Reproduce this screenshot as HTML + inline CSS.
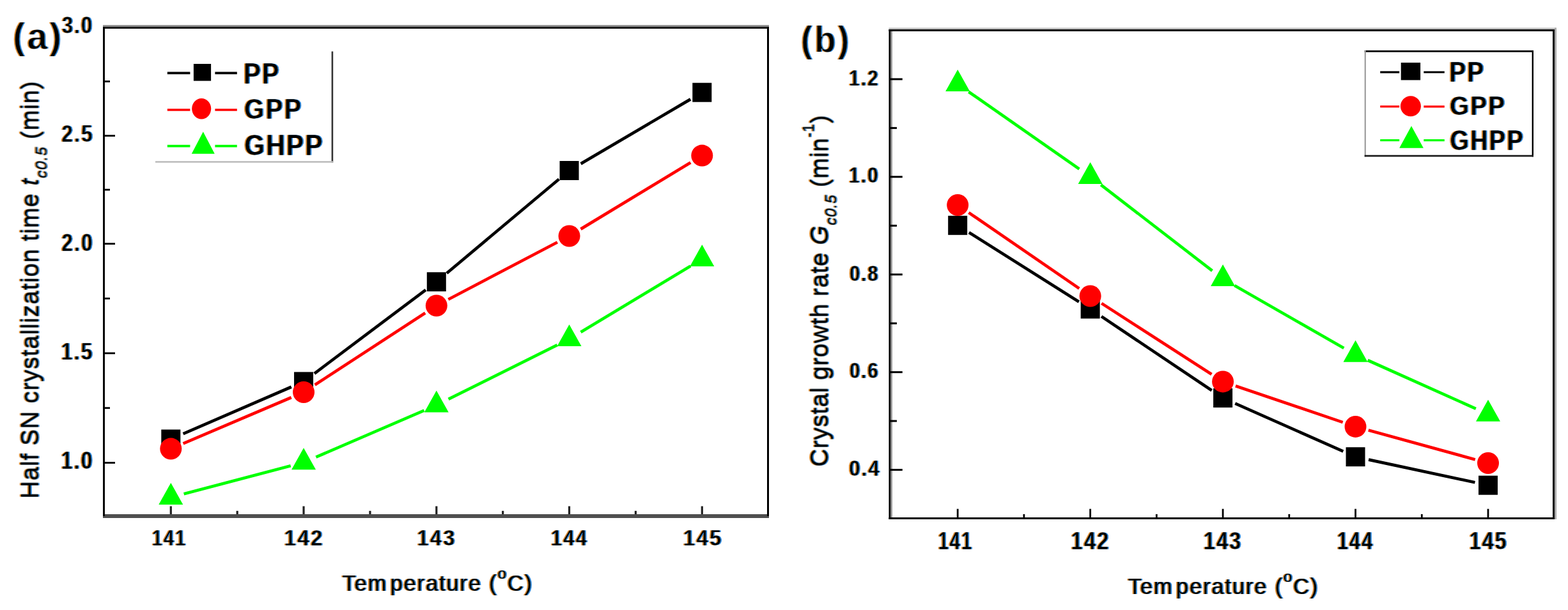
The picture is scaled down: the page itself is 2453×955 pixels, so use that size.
<!DOCTYPE html>
<html><head><meta charset="utf-8"><title>Crystallization plots</title>
<style>html,body{margin:0;padding:0;background:#fff;} svg{display:block;} text{font-family:"Liberation Sans", Arial, sans-serif;fill:#000;} text.b{stroke:#fff;stroke-width:0.6px;} text.b2{stroke:#fff;stroke-width:1.8px;}</style>
</head><body>
<svg width="2453" height="955" viewBox="0 0 2453 955">
<rect width="2453" height="955" fill="#fff"/>
<rect x="161.00" y="39.20" width="1042.00" height="2.80" fill="#8a8a8a"/>
<rect x="161.00" y="42.00" width="1042.00" height="3.00" fill="#1a1a1a"/>
<rect x="161.00" y="805.00" width="1042.00" height="6.00" fill="#4f4f4f"/>
<rect x="161.00" y="42.00" width="3.00" height="766.00" fill="#000"/>
<rect x="1200.00" y="42.00" width="3.00" height="766.00" fill="#000"/>
<rect x="164.00" y="211.10" width="16.00" height="2.80" fill="#000"/>
<rect x="164.00" y="380.20" width="16.00" height="2.80" fill="#000"/>
<rect x="164.00" y="551.60" width="16.00" height="2.80" fill="#000"/>
<rect x="164.00" y="723.10" width="16.00" height="2.80" fill="#000"/>
<rect x="164.00" y="126.10" width="8.00" height="2.80" fill="#000"/>
<rect x="164.00" y="295.65" width="8.00" height="2.80" fill="#000"/>
<rect x="164.00" y="465.90" width="8.00" height="2.80" fill="#000"/>
<rect x="164.00" y="637.35" width="8.00" height="2.80" fill="#000"/>
<rect x="265.70" y="792.50" width="3.20" height="12.50" fill="#222"/>
<rect x="369.57" y="799.80" width="3.20" height="5.20" fill="#222"/>
<rect x="473.45" y="792.50" width="3.20" height="12.50" fill="#222"/>
<rect x="577.32" y="799.80" width="3.20" height="5.20" fill="#222"/>
<rect x="681.20" y="792.50" width="3.20" height="12.50" fill="#222"/>
<rect x="785.07" y="799.80" width="3.20" height="5.20" fill="#222"/>
<rect x="888.95" y="792.50" width="3.20" height="12.50" fill="#222"/>
<rect x="992.82" y="799.80" width="3.20" height="5.20" fill="#222"/>
<rect x="1096.70" y="792.50" width="3.20" height="12.50" fill="#222"/>
<rect x="1390.50" y="43.50" width="1044.50" height="2.50" fill="#bdbdbd"/>
<rect x="2432.00" y="43.50" width="3.00" height="769.50" fill="#aaaaaa"/>
<rect x="1393.30" y="46.00" width="2.70" height="764.00" fill="#999999"/>
<rect x="1390.50" y="46.00" width="1041.50" height="3.00" fill="#000"/>
<rect x="1390.50" y="46.00" width="2.80" height="767.00" fill="#000"/>
<rect x="2429.00" y="46.00" width="3.00" height="767.00" fill="#000"/>
<rect x="1390.50" y="810.00" width="1041.50" height="3.00" fill="#000"/>
<rect x="1393.00" y="122.45" width="18.80" height="3.00" fill="#000"/>
<rect x="1393.00" y="198.90" width="10.00" height="3.00" fill="#000"/>
<rect x="1393.00" y="275.35" width="18.80" height="3.00" fill="#000"/>
<rect x="1393.00" y="351.80" width="10.00" height="3.00" fill="#000"/>
<rect x="1393.00" y="428.25" width="18.80" height="3.00" fill="#000"/>
<rect x="1393.00" y="504.70" width="10.00" height="3.00" fill="#000"/>
<rect x="1393.00" y="581.15" width="18.80" height="3.00" fill="#000"/>
<rect x="1393.00" y="657.60" width="10.00" height="3.00" fill="#000"/>
<rect x="1393.00" y="734.05" width="18.80" height="3.00" fill="#000"/>
<rect x="1496.80" y="796.70" width="2.80" height="13.30" fill="#000"/>
<rect x="1600.52" y="804.90" width="2.80" height="5.10" fill="#000"/>
<rect x="1704.25" y="796.70" width="2.80" height="13.30" fill="#000"/>
<rect x="1807.97" y="804.90" width="2.80" height="5.10" fill="#000"/>
<rect x="1911.70" y="796.70" width="2.80" height="13.30" fill="#000"/>
<rect x="2015.42" y="804.90" width="2.80" height="5.10" fill="#000"/>
<rect x="2119.15" y="796.70" width="2.80" height="13.30" fill="#000"/>
<rect x="2222.88" y="804.90" width="2.80" height="5.10" fill="#000"/>
<rect x="2326.60" y="796.70" width="2.80" height="13.30" fill="#000"/>
<line x1="286.57" y1="679.14" x2="455.78" y2="605.76" stroke="#000" stroke-width="4.7"/>
<line x1="491.83" y1="584.78" x2="666.02" y2="453.82" stroke="#000" stroke-width="4.7"/>
<line x1="698.89" y1="427.71" x2="874.46" y2="280.49" stroke="#000" stroke-width="4.7"/>
<line x1="908.65" y1="256.35" x2="1080.20" y2="155.35" stroke="#000" stroke-width="4.7"/>
<line x1="286.62" y1="694.36" x2="455.73" y2="622.24" stroke="#ff0000" stroke-width="4.7"/>
<line x1="492.64" y1="602.53" x2="665.21" y2="489.97" stroke="#ff0000" stroke-width="4.7"/>
<line x1="701.40" y1="468.74" x2="871.95" y2="379.26" stroke="#ff0000" stroke-width="4.7"/>
<line x1="908.51" y1="358.62" x2="1080.34" y2="254.48" stroke="#ff0000" stroke-width="4.7"/>
<line x1="287.61" y1="773.25" x2="454.74" y2="729.25" stroke="#00ff00" stroke-width="4.7"/>
<line x1="494.33" y1="715.58" x2="663.52" y2="642.62" stroke="#00ff00" stroke-width="4.7"/>
<line x1="701.60" y1="624.94" x2="871.75" y2="540.16" stroke="#00ff00" stroke-width="4.7"/>
<line x1="908.54" y1="519.97" x2="1080.31" y2="416.53" stroke="#00ff00" stroke-width="4.7"/>
<rect x="252.30" y="672.50" width="30" height="30" fill="#000"/>
<rect x="460.05" y="582.40" width="30" height="30" fill="#000"/>
<rect x="667.80" y="426.20" width="30" height="30" fill="#000"/>
<rect x="875.55" y="252.00" width="30" height="30" fill="#000"/>
<rect x="1083.30" y="129.70" width="30" height="30" fill="#000"/>
<circle cx="267.30" cy="702.60" r="17.0" fill="#ff0000"/>
<circle cx="475.05" cy="614.00" r="17.0" fill="#ff0000"/>
<circle cx="682.80" cy="478.50" r="17.0" fill="#ff0000"/>
<circle cx="890.55" cy="369.50" r="17.0" fill="#ff0000"/>
<circle cx="1098.30" cy="243.60" r="17.0" fill="#ff0000"/>
<polygon points="267.30,755.90 286.30,789.90 248.30,789.90" fill="#00ff00"/>
<polygon points="475.05,701.20 494.05,735.20 456.05,735.20" fill="#00ff00"/>
<polygon points="682.80,611.60 701.80,645.60 663.80,645.60" fill="#00ff00"/>
<polygon points="890.55,508.10 909.55,542.10 871.55,542.10" fill="#00ff00"/>
<polygon points="1098.30,383.00 1117.30,417.00 1079.30,417.00" fill="#00ff00"/>
<line x1="1515.96" y1="364.01" x2="1687.89" y2="472.49" stroke="#000" stroke-width="4.7"/>
<line x1="1723.08" y1="495.41" x2="1895.67" y2="611.29" stroke="#000" stroke-width="4.7"/>
<line x1="1932.29" y1="631.53" x2="2101.36" y2="706.67" stroke="#000" stroke-width="4.7"/>
<line x1="2141.08" y1="719.60" x2="2307.47" y2="755.30" stroke="#000" stroke-width="4.7"/>
<line x1="1515.51" y1="332.89" x2="1688.34" y2="451.61" stroke="#ff0000" stroke-width="4.7"/>
<line x1="1723.29" y1="474.89" x2="1895.46" y2="586.01" stroke="#ff0000" stroke-width="4.7"/>
<line x1="1932.98" y1="604.16" x2="2100.67" y2="661.14" stroke="#ff0000" stroke-width="4.7"/>
<line x1="2140.80" y1="673.47" x2="2307.75" y2="719.43" stroke="#ff0000" stroke-width="4.7"/>
<line x1="1515.42" y1="143.73" x2="1688.43" y2="264.57" stroke="#00ff00" stroke-width="4.7"/>
<line x1="1722.28" y1="289.43" x2="1896.47" y2="423.77" stroke="#00ff00" stroke-width="4.7"/>
<line x1="1931.32" y1="447.04" x2="2102.33" y2="544.96" stroke="#00ff00" stroke-width="4.7"/>
<line x1="2139.71" y1="563.99" x2="2308.84" y2="639.81" stroke="#00ff00" stroke-width="4.7"/>
<rect x="1483.20" y="337.80" width="30" height="30" fill="#000"/>
<rect x="1690.65" y="468.70" width="30" height="30" fill="#000"/>
<rect x="1898.10" y="608.00" width="30" height="30" fill="#000"/>
<rect x="2105.55" y="700.20" width="30" height="30" fill="#000"/>
<rect x="2313.00" y="744.70" width="30" height="30" fill="#000"/>
<circle cx="1498.20" cy="321.00" r="17.0" fill="#ff0000"/>
<circle cx="1705.65" cy="463.50" r="17.0" fill="#ff0000"/>
<circle cx="1913.10" cy="597.40" r="17.0" fill="#ff0000"/>
<circle cx="2120.55" cy="667.90" r="17.0" fill="#ff0000"/>
<circle cx="2328.00" cy="725.00" r="17.0" fill="#ff0000"/>
<polygon points="1498.20,109.00 1517.20,143.00 1479.20,143.00" fill="#00ff00"/>
<polygon points="1705.65,253.90 1724.65,287.90 1686.65,287.90" fill="#00ff00"/>
<polygon points="1913.10,413.90 1932.10,447.90 1894.10,447.90" fill="#00ff00"/>
<polygon points="2120.55,532.70 2139.55,566.70 2101.55,566.70" fill="#00ff00"/>
<polygon points="2328.00,625.70 2347.00,659.70 2309.00,659.70" fill="#00ff00"/>
<rect x="518.60" y="80.50" width="2.60" height="174.00" fill="#333"/>
<rect x="243.00" y="252.20" width="278.20" height="2.50" fill="#bbbbbb"/>
<line x1="261.80" y1="114.40" x2="297.40" y2="114.40" stroke="#000" stroke-width="3.6"/>
<line x1="336.40" y1="114.40" x2="370.80" y2="114.40" stroke="#000" stroke-width="3.6"/>
<line x1="261.80" y1="172.00" x2="297.40" y2="172.00" stroke="#ff0000" stroke-width="3.6"/>
<line x1="336.40" y1="172.00" x2="370.80" y2="172.00" stroke="#ff0000" stroke-width="3.6"/>
<line x1="261.80" y1="228.60" x2="297.40" y2="228.60" stroke="#00ff00" stroke-width="3.6"/>
<line x1="336.40" y1="228.60" x2="370.80" y2="228.60" stroke="#00ff00" stroke-width="3.6"/>
<rect x="302.9" y="100" width="27.2" height="26.6" fill="#000"/>
<ellipse cx="315.2" cy="170.2" rx="15" ry="16.2" fill="#ff0000"/>
<polygon points="317.8,206.2 335.8,240.7 299.8,240.7" fill="#00ff00"/>
<rect x="2134.70" y="78.90" width="264.30" height="2.70" fill="#000"/>
<rect x="2134.70" y="78.90" width="2.10" height="166.50" fill="#999"/>
<rect x="2396.60" y="78.90" width="2.40" height="166.50" fill="#000"/>
<rect x="2134.70" y="242.70" width="264.30" height="2.70" fill="#1a1a1a"/>
<line x1="2159.20" y1="113.00" x2="2189.20" y2="113.00" stroke="#000" stroke-width="3.2"/>
<line x1="2227.30" y1="113.00" x2="2259.80" y2="113.00" stroke="#000" stroke-width="3.2"/>
<line x1="2159.20" y1="166.80" x2="2189.20" y2="166.80" stroke="#ff0000" stroke-width="3.2"/>
<line x1="2227.30" y1="166.80" x2="2259.80" y2="166.80" stroke="#ff0000" stroke-width="3.2"/>
<line x1="2159.20" y1="219.60" x2="2189.20" y2="219.60" stroke="#00ff00" stroke-width="3.2"/>
<line x1="2227.30" y1="219.60" x2="2259.80" y2="219.60" stroke="#00ff00" stroke-width="3.2"/>
<rect x="2191.7" y="98.1" width="30.4" height="27.3" fill="#000"/>
<circle cx="2206.9" cy="166.3" r="16" fill="#ff0000"/>
<polygon points="2208,197.2 2226.9,231.8 2189.2,231.8" fill="#00ff00"/>
<defs><filter id="ct" x="-2%" y="-2%" width="104%" height="104%" color-interpolation-filters="sRGB"><feColorMatrix in="SourceGraphic" type="matrix" values="0 0 0 0 0  0 0 0 0 0  0 0 0 0 0  -0.333 -0.333 -0.334 1 0" result="ink"/><feOffset in="ink" dx="-2.2" dy="0" result="l"/><feFlood flood-color="#d98a30" result="lc"/><feComposite in="lc" in2="l" operator="in" result="lcol"/><feOffset in="ink" dx="2.2" dy="0" result="r"/><feFlood flood-color="#2f86d6" result="rc"/><feComposite in="rc" in2="r" operator="in" result="rcol"/><feFlood flood-color="#000" result="k"/><feComposite in="k" in2="ink" operator="in" result="core"/><feMerge><feMergeNode in="lcol"/><feMergeNode in="rcol"/><feMergeNode in="core"/></feMerge></filter></defs>
<g filter="url(#ct)">
<text class="b2" transform="translate(20.05 77.20) scale(0.9833 1.0000)" font-size="58.5" font-weight="bold" letter-spacing="3">(a)</text>
<text class="b2" transform="translate(1252.78 81.60) scale(0.9387 1.0000)" font-size="58.5" font-weight="bold" letter-spacing="3">(b)</text>
<text class="b" transform="translate(96.63 52.20) scale(0.8731 1.0500)" font-size="35.5" font-weight="bold" letter-spacing="2.5">3.0</text>
<text class="b" transform="translate(96.32 221.80) scale(0.8846 1.0208)" font-size="35.5" font-weight="bold" letter-spacing="2.5">2.5</text>
<text class="b" transform="translate(96.32 393.20) scale(0.8846 1.1083)" font-size="35.5" font-weight="bold" letter-spacing="2.5">2.0</text>
<text class="b" transform="translate(95.40 563.00) scale(0.9020 1.0458)" font-size="35.5" font-weight="bold" letter-spacing="2.5">1.5</text>
<text class="b" transform="translate(95.40 733.50) scale(0.9020 1.0833)" font-size="35.5" font-weight="bold" letter-spacing="2.5">1.0</text>
<text class="b" transform="translate(237.43 854.00) scale(0.8344 1.0042)" font-size="35.0" font-weight="bold" letter-spacing="2.5">141</text>
<text class="b" transform="translate(444.61 854.00) scale(0.9433 1.0042)" font-size="35.0" font-weight="bold" letter-spacing="2.5">142</text>
<text class="b" transform="translate(652.55 854.00) scale(0.9250 1.0042)" font-size="35.0" font-weight="bold" letter-spacing="2.5">143</text>
<text class="b" transform="translate(861.83 854.00) scale(0.8836 1.0042)" font-size="35.0" font-weight="bold" letter-spacing="2.5">144</text>
<text class="b" transform="translate(1068.82 854.00) scale(0.9383 1.0042)" font-size="35.0" font-weight="bold" letter-spacing="2.5">145</text>
<text class="b" transform="translate(1328.08 133.70) scale(0.8094 0.9654)" font-size="37.0" font-weight="bold" letter-spacing="2.5">1.2</text>
<text class="b" transform="translate(1328.09 286.10) scale(0.8038 0.9308)" font-size="37.0" font-weight="bold" letter-spacing="2.5">1.0</text>
<text class="b" transform="translate(1328.91 439.50) scale(0.7889 0.9423)" font-size="37.0" font-weight="bold" letter-spacing="2.5">0.8</text>
<text class="b" transform="translate(1328.91 592.00) scale(0.7889 0.9385)" font-size="37.0" font-weight="bold" letter-spacing="2.5">0.6</text>
<text class="b" transform="translate(1328.26 745.20) scale(0.8364 0.9462)" font-size="37.0" font-weight="bold" letter-spacing="2.5">0.4</text>
<text class="b" transform="translate(1467.43 859.50) scale(0.7333 0.9857)" font-size="40.0" font-weight="bold" letter-spacing="2.5">141</text>
<text class="b" transform="translate(1675.31 859.50) scale(0.8221 0.9857)" font-size="40.0" font-weight="bold" letter-spacing="2.5">142</text>
<text class="b" transform="translate(1882.77 859.50) scale(0.8147 0.9857)" font-size="40.0" font-weight="bold" letter-spacing="2.5">143</text>
<text class="b" transform="translate(2091.81 859.50) scale(0.7700 0.9857)" font-size="40.0" font-weight="bold" letter-spacing="2.5">144</text>
<text class="b" transform="translate(2298.38 859.50) scale(0.8087 0.9857)" font-size="40.0" font-weight="bold" letter-spacing="2.5">145</text>
<text class="b" transform="translate(380.92 131.10) scale(0.8617 0.9969)" font-size="46.3" font-weight="bold" letter-spacing="2.5">PP</text>
<text class="b" transform="translate(382.04 186.40) scale(0.9315 1.0138)" font-size="43.0" font-weight="bold" letter-spacing="2.5">GPP</text>
<text class="b" transform="translate(382.13 243.30) scale(0.8830 0.9938)" font-size="46.3" font-weight="bold" letter-spacing="2.5">GHPP</text>
<text class="b" transform="translate(2267.29 128.20) scale(0.8684 0.9903)" font-size="44.5" font-weight="bold" letter-spacing="2.5">PP</text>
<text class="b" transform="translate(2268.09 179.70) scale(0.9033 1.0138)" font-size="42.6" font-weight="bold" letter-spacing="2.5">GPP</text>
<text class="b" transform="translate(2268.13 234.50) scale(0.8849 1.0241)" font-size="43.0" font-weight="bold" letter-spacing="2.5">GHPP</text>
<text transform="translate(535.41 925.00) scale(0.9889 1.0000)" font-size="35.0" font-weight="normal" letter-spacing="1.8">Tem<tspan dx="4.5">perature</tspan> (<tspan font-size="24.5" dy="-19.4">o</tspan><tspan dy="19.4">C)</tspan></text>
<text transform="translate(1764.71 930.20) scale(0.9889 1.0000)" font-size="35.0" font-weight="normal" letter-spacing="1.8">Tem<tspan dx="4.5">perature</tspan> (<tspan font-size="24.5" dy="-19.4">o</tspan><tspan dy="19.4">C)</tspan></text>
<text transform="translate(59.80 780.71) rotate(-90) scale(1.0020 1.0000)" font-size="38.3" font-weight="normal" letter-spacing="0.8">Half SN crystallization time <tspan font-style="italic">t</tspan><tspan font-style="italic" font-size="24.6" dy="12.9">c0.5</tspan><tspan dy="-12.9"> (min)</tspan></text>
<text transform="translate(1295.00 730.70) rotate(-90) scale(1.0002 1.0000)" font-size="39.0" font-weight="normal" letter-spacing="0.45">Crystal growth rate <tspan font-style="italic">G</tspan><tspan font-style="italic" font-size="24.6" dy="12.5">c0.5</tspan><tspan dy="-12.5"> (min</tspan><tspan font-size="24" dy="-22.4">-1</tspan><tspan dy="22.4">)</tspan></text>
</g>
</svg>
</body></html>
